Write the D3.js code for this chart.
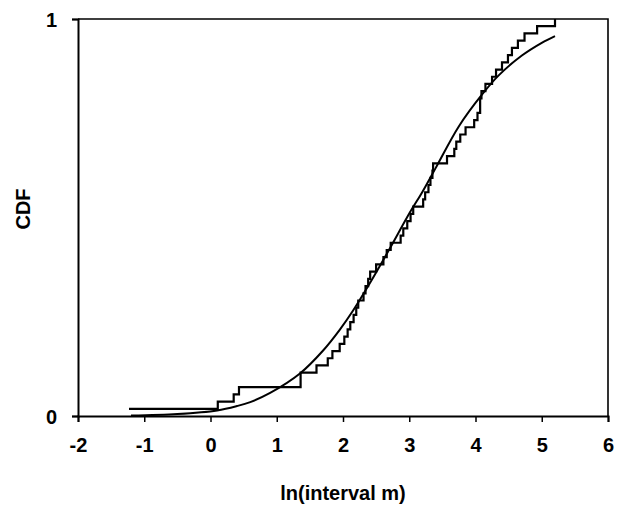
<!DOCTYPE html>
<html>
<head>
<meta charset="utf-8">
<script src="https://cdn.jsdelivr.net/npm/d3@7/dist/d3.min.js"></script>
<style>
  body { margin: 0; background: #fff; }
  svg text { font-family: "Liberation Sans", Arial, sans-serif; fill: #000; }
</style>
</head>
<body>
<div id="chart"></div>
<script>
// observed ln(interval m), sorted (repeated values = double steps)
var lnIntervals = [-1.23, 0.11, 0.35, 0.43, 1.36, 1.36, 1.60, 1.77, 1.84, 1.95,
                   2.02, 2.07, 2.11, 2.16, 2.20, 2.23, 2.31, 2.34, 2.38, 2.41,
                   2.50, 2.61, 2.66, 2.72, 2.87, 2.91, 2.97, 3.02, 3.06, 3.21,
                   3.24, 3.29, 3.32, 3.35, 3.36, 3.57, 3.68, 3.71, 3.77, 3.85,
                   3.98, 4.03, 4.07, 4.07, 4.09, 4.15, 4.25, 4.31, 4.40, 4.49,
                   4.55, 4.64, 4.74, 4.93, 5.20];

// fitted CDF curve
var fitX = [-1.2, -0.5, 0.1, 0.4, 0.6, 0.9, 1.35, 1.7, 1.95, 2.15, 2.4,
            2.7, 3.0, 3.2, 3.4, 3.75, 4.1, 4.35, 4.7, 5.0, 5.2];
var fitY = [0.001, 0.005, 0.014, 0.025, 0.035, 0.058, 0.107, 0.165, 0.217, 0.265, 0.333,
            0.42, 0.51, 0.565, 0.625, 0.73, 0.81, 0.858, 0.908, 0.94, 0.957];

var xTicks = [-2, -1, 0, 1, 2, 3, 4, 5, 6];
var yTicks = [0, 1];

var width = 620, height = 510,
    margin = {top: 19, right: 12, bottom: 94, left: 78},
    w = width - margin.left - margin.right,
    h = height - margin.top - margin.bottom;

var svg = d3.select("#chart").append("svg")
    .attr("width", width)
    .attr("height", height);

var g = svg.append("g")
    .attr("transform", "translate(" + margin.left + "," + margin.top + ")");

var x = d3.scaleLinear().domain([-2, 6]).range([0, w]);
var y = d3.scaleLinear().domain([0, 1]).range([h, 0]);

// plain hyphen for negatives, like the original
var fmt = function(d) { return String(d); };

// frame (top + right)
g.append("path")
    .attr("d", "M0,0H" + w + "V" + h)
    .attr("fill", "none")
    .attr("stroke", "#000")
    .attr("stroke-width", 1.6);

var xAxis = g.append("g")
    .attr("transform", "translate(0," + h + ")")
    .call(d3.axisBottom(x).tickValues(xTicks).tickSize(6).tickPadding(16).tickFormat(fmt));

var yAxis = g.append("g")
    .call(d3.axisLeft(y).tickValues(yTicks).tickSize(6).tickPadding(15).tickFormat(fmt));

[xAxis, yAxis].forEach(function(a) {
  a.select(".domain").attr("stroke", "#000").attr("stroke-width", 2);
  a.selectAll(".tick line").attr("stroke", "#000").attr("stroke-width", 1.5);
  a.selectAll(".tick text")
    .attr("font-family", "Liberation Sans, Arial, sans-serif")
    .attr("font-size", 20)
    .attr("font-weight", "bold")
    .attr("fill", "#000");
});
yAxis.selectAll(".tick text").attr("dy", "0.36em");

// empirical CDF steps
var n = lnIntervals.length;
var stepPts = lnIntervals.map(function(v, i) { return [v, (i + 1) / n]; });

var stepLine = d3.line()
    .x(function(d) { return x(d[0]); })
    .y(function(d) { return y(d[1]); })
    .curve(d3.curveStepAfter);

g.append("path")
    .datum(stepPts)
    .attr("d", stepLine)
    .attr("fill", "none")
    .attr("stroke", "#000")
    .attr("stroke-width", 2.2)
    .attr("stroke-linejoin", "miter");

// fitted curve
var fitPts = fitX.map(function(v, i) { return [v, fitY[i]]; });

var fitLine = d3.line()
    .x(function(d) { return x(d[0]); })
    .y(function(d) { return y(d[1]); })
    .curve(d3.curveCatmullRom);

g.append("path")
    .datum(fitPts)
    .attr("d", fitLine)
    .attr("fill", "none")
    .attr("stroke", "#000")
    .attr("stroke-width", 2);

// axis titles
svg.append("text")
    .attr("x", margin.left + w / 2)
    .attr("y", 500)
    .attr("text-anchor", "middle")
    .attr("font-size", 20)
    .attr("font-weight", "bold")
    .text("ln(interval m)");

svg.append("text")
    .attr("transform", "translate(30,209) rotate(-90)")
    .attr("text-anchor", "middle")
    .attr("font-size", 20)
    .attr("font-weight", "bold")
    .text("CDF");
</script>
</body>
</html>
